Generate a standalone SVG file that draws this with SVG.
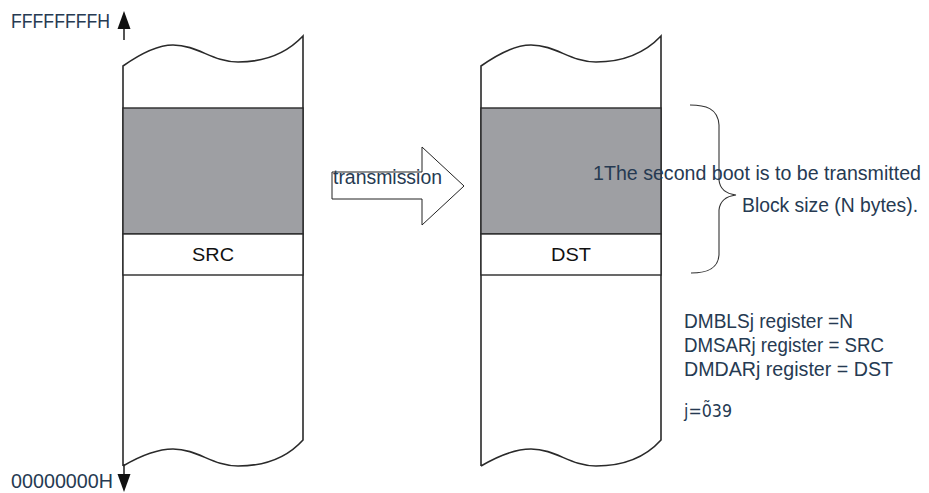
<svg xmlns="http://www.w3.org/2000/svg" width="929" height="493" viewBox="0 0 929 493">
<style>
.t{font-family:"Liberation Sans",Arial,sans-serif;fill:#263a52;font-size:19.5px}
.lbl{font-family:"Liberation Sans",Arial,sans-serif;fill:#111;font-size:17.5px}
.edge{fill:none;stroke:#2a2a2a;stroke-width:1.6}
.gray{fill:#9e9fa3;stroke:#2a2a2a;stroke-width:1.4}
.row{fill:#fff;stroke:#2a2a2a;stroke-width:1.4}
.thin{fill:none;stroke:#333;stroke-width:1.1}
</style>
<rect width="929" height="493" fill="#fff"/>
<g id="src-memory">
<path class="edge" d="M123,466 L123,66 C140,54 158,45 173,45 C198,45 212,62 238,62 C262,62 285,55 303,36 L303,440 C285,460 262,466 238,466 C212,466 198,449 173,449 C158,449 140,456 123,466"/>
<rect class="gray" x="123" y="108" width="180" height="126"/>
<rect class="row" x="123" y="234" width="180" height="41"/>
<text class="lbl" x="192" y="261" textLength="42" lengthAdjust="spacingAndGlyphs">SRC</text>
</g>
<g id="dst-memory">
<path class="edge" d="M481,466 L481,66 C498,54 516,45 531,45 C556,45 570,62 596,62 C620,62 643,55 661,36 L661,440 C643,460 620,466 596,466 C570,466 556,449 531,449 C516,449 498,456 481,466"/>
<rect class="gray" x="481" y="108" width="180" height="126"/>
<rect class="row" x="481" y="234" width="180" height="41"/>
<text class="lbl" x="551" y="261" textLength="40" lengthAdjust="spacingAndGlyphs">DST</text>
</g>
<g id="address-axis">
<line class="edge" x1="124" y1="27" x2="124" y2="40"/>
<polygon points="124,11 117.5,29 130.5,29" fill="#111"/>
<line class="edge" x1="124" y1="464" x2="124" y2="476"/>
<polygon points="117.5,474 130.5,474 124,492" fill="#111"/>
<text class="t" x="11" y="28" textLength="99" lengthAdjust="spacingAndGlyphs">FFFFFFFFH</text>
<text class="t" x="11" y="488" textLength="102" lengthAdjust="spacingAndGlyphs">00000000H</text>
</g>
<g id="connectors">
<g id="transmission-arrow">
<polygon points="332,172 422,172 422,147 464,186 422,225 422,199 332,199" fill="#fff" stroke="#222" stroke-width="1"/>
<text class="t" x="333" y="184" textLength="109" lengthAdjust="spacingAndGlyphs">transmission</text>
</g>
<path id="brace" class="thin" d="M690,105 C705,105 718,108 719,125 L719,180 C720,190 728,194 736,195 C728,196 720,200 719,210 L719,255 C718,270 705,273 691,273"/>
</g>
<g id="block-note">
<text class="t" x="593" y="180" textLength="328" lengthAdjust="spacingAndGlyphs">1The second boot is to be transmitted</text>
<text class="t" x="742" y="212" textLength="176" lengthAdjust="spacingAndGlyphs">Block size (N bytes).</text>
</g>
<g id="registers">
<text class="t" x="684" y="328" textLength="169" lengthAdjust="spacingAndGlyphs">DMBLSj register =N</text>
<text class="t" x="684" y="352" textLength="200" lengthAdjust="spacingAndGlyphs">DMSARj register = SRC</text>
<text class="t" x="684" y="376" textLength="209" lengthAdjust="spacingAndGlyphs">DMDARj register = DST</text>
<text class="t" x="684" y="417" style="font-family:'DejaVu Sans',sans-serif;font-size:18px" textLength="48" lengthAdjust="spacingAndGlyphs">j=0̃39</text>
</g>
</svg>
